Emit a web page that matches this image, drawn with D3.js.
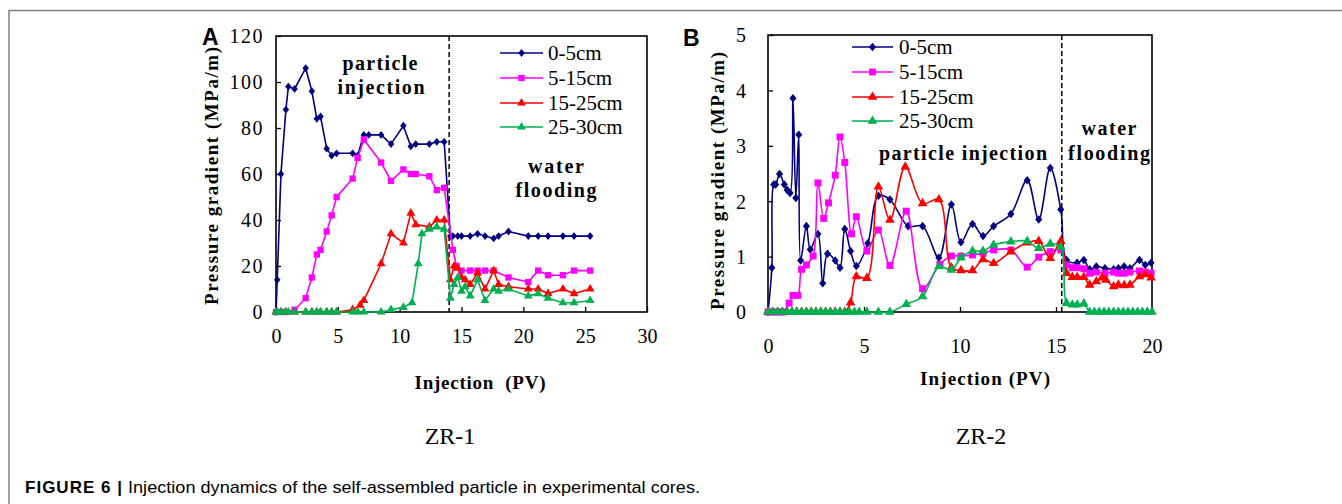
<!DOCTYPE html>
<html>
<head>
<meta charset="utf-8">
<script src="https://cdn.jsdelivr.net/npm/d3@7"></script>
<style>
  body { margin: 0; background: #fff; }
</style>
</head>
<body>
<div id="fig"></div>
<script>
// ---- data ----
const seriesNames = ['0-5cm', '5-15cm', '15-25cm', '25-30cm'];

// ZR-1 (panel A)
const a05x = [0, 0.1, 0.4, 0.8, 1.0, 1.5, 2.4, 2.9, 3.3, 3.6, 4.1, 4.5, 4.9, 6.2, 6.6, 7.1, 7.5, 8.5, 9.3, 10.3, 10.9, 11.3, 12.4, 13.0, 13.6, 14.1, 14.3, 14.7, 15.0, 15.7, 16.3, 16.9, 17.6, 18.0, 18.8, 20.4, 21.2, 22.0, 23.2, 24.1, 25.4];
const a05y = [0, 14, 60, 88, 98, 97, 106, 96, 84, 85, 71, 68, 69, 69, 68, 77, 77, 77, 73, 81, 72, 73, 73, 74, 74, 33, 33, 33, 33, 33, 34, 33, 32, 33, 35, 33, 33, 33, 33, 33, 33];
const a515x = [0, 0.4, 0.8, 1.5, 2.4, 2.9, 3.3, 3.6, 4.1, 4.5, 4.9, 6.2, 6.6, 7.1, 8.5, 9.3, 10.3, 10.9, 11.3, 12.4, 13.0, 13.6, 14.3, 14.6, 15.0, 15.7, 16.3, 16.9, 17.6, 18.8, 20.4, 21.2, 22.0, 23.2, 24.1, 25.4];
const a515y = [0, 0, 0, 1, 6, 15, 25, 27, 35, 42, 50, 58, 67, 75, 65, 57, 62, 60, 60, 59, 53, 54, 27, 20, 18, 18, 18, 18, 18, 15, 13, 18, 16, 16, 18, 18];
const a1525x = [0, 0.4, 0.8, 1.5, 2.4, 2.9, 3.3, 3.6, 4.1, 4.5, 4.9, 6.2, 6.8, 7.1, 8.5, 9.3, 10.3, 10.9, 11.3, 12.4, 13.0, 13.6, 14.1, 14.4, 14.7, 15.0, 15.3, 15.7, 16.3, 16.9, 17.6, 18.0, 18.8, 20.4, 21.2, 22.0, 23.2, 24.1, 25.4];
const a1525y = [0, 0, 0, 0, 0, 0, 0, 0, 0, 0, 0, 1, 3, 5, 21, 34, 30, 43, 38, 37, 40, 40, 14, 20, 19, 15, 14, 12, 17, 10, 18, 12, 11, 10, 10, 8, 10, 8, 10];
const a2530x = [0, 0.1, 0.4, 0.8, 1.0, 1.5, 2.4, 2.9, 3.3, 3.6, 4.1, 4.5, 4.9, 6.2, 6.6, 7.1, 8.5, 9.3, 10.3, 11.0, 11.5, 11.8, 12.4, 13.0, 13.6, 14.1, 14.4, 14.7, 15.0, 15.3, 15.7, 16.3, 16.9, 17.6, 18.0, 18.8, 20.4, 21.2, 22.0, 23.2, 24.1, 25.4];
const a2530y = [0, 0, 0, 0, 0, 0, 0, 0, 0, 0, 0, 0, 0, 0, 0, 0, 0, 1, 2, 4, 21, 34, 36, 37, 36, 6, 12, 15, 9, 11, 7, 14, 5, 10, 9, 10, 7, 8, 6, 4, 4, 5];
const xTicksA = [0, 5, 10, 15, 20, 25, 30];
const yTicksA = [0, 20, 40, 60, 80, 100, 120];
const switchA = 14.0;

// ZR-2 (panel B)
const b05x = [0, 0.2, 0.3, 0.4, 0.6, 0.85, 1.0, 1.15, 1.3, 1.45, 1.6, 1.7, 2.0, 2.2, 2.6, 2.85, 3.1, 3.5, 3.75, 4.0, 4.3, 4.6, 5.2, 5.75, 6.35, 7.3, 8.05, 8.9, 9.55, 10.05, 10.65, 11.2, 11.75, 12.65, 13.5, 14.1, 14.7, 15.25, 15.55, 16.1, 16.45, 16.75, 17.1, 17.55, 18.0, 18.25, 18.55, 18.85, 19.35, 19.65, 19.95];
const b05y = [0, 0.8, 2.3, 2.3, 2.49, 2.3, 2.2, 2.15, 3.86, 2.06, 3.2, 0.93, 1.55, 1.13, 1.41, 0.52, 1.05, 0.93, 0.8, 1.5, 1.1, 0.83, 1.24, 2.1, 2.03, 1.55, 1.55, 0.98, 1.94, 1.26, 1.59, 1.37, 1.55, 1.77, 2.38, 1.67, 2.6, 1.85, 0.94, 0.89, 0.94, 0.77, 0.82, 0.79, 0.77, 0.79, 0.82, 0.79, 0.94, 0.85, 0.89];
const b515x = [0, 0.2, 0.4, 0.6, 0.8, 1.1, 1.3, 1.55, 1.75, 2.0, 2.35, 2.6, 2.9, 3.15, 3.5, 3.75, 4.0, 4.35, 4.6, 5.15, 5.75, 6.35, 7.2, 8.05, 8.95, 9.55, 10.05, 10.65, 11.2, 11.75, 12.65, 13.5, 14.1, 14.7, 15.25, 15.55, 15.85, 16.1, 16.45, 16.75, 17.1, 17.55, 18.0, 18.25, 18.55, 18.85, 19.35, 19.65, 19.95];
const b515y = [0, 0, 0, 0, 0, 0.16, 0.3, 0.3, 0.77, 0.85, 1.01, 2.33, 1.69, 1.97, 2.47, 3.16, 2.7, 1.41, 1.72, 1.1, 1.48, 0.84, 1.82, 0.42, 0.86, 1.01, 1.01, 1.03, 1.06, 1.12, 1.12, 0.81, 0.99, 1.09, 1.12, 0.85, 0.8, 0.8, 0.78, 0.7, 0.72, 0.7, 0.72, 0.7, 0.7, 0.72, 0.74, 0.72, 0.7];
const b1525x = [0, 0.25, 0.5, 0.75, 1.0, 1.25, 1.5, 1.75, 2.0, 2.25, 2.5, 2.75, 3.0, 3.25, 3.5, 3.75, 4.0, 4.3, 4.6, 5.15, 5.75, 6.35, 7.15, 8.05, 8.9, 9.55, 10.05, 10.65, 11.2, 11.75, 12.65, 13.5, 14.1, 14.7, 15.25, 15.55, 15.85, 16.1, 16.45, 16.75, 17.1, 17.4, 17.6, 18.0, 18.25, 18.55, 18.85, 19.35, 19.65, 19.95];
const b1525y = [0, 0, 0, 0, 0, 0, 0, 0, 0, 0, 0, 0, 0, 0, 0, 0, 0, 0.17, 0.64, 0.61, 2.26, 1.66, 2.62, 1.96, 2.03, 0.8, 0.75, 0.75, 0.95, 0.88, 1.09, 1.25, 1.28, 0.97, 1.28, 0.7, 0.63, 0.63, 0.63, 0.49, 0.55, 0.62, 0.58, 0.46, 0.49, 0.48, 0.49, 0.64, 0.68, 0.62];
const b2530x = [0, 0.25, 0.5, 0.75, 1.0, 1.25, 1.5, 1.75, 2.0, 2.25, 2.5, 2.75, 3.0, 3.25, 3.5, 3.75, 4.0, 4.25, 4.5, 4.75, 5.15, 5.75, 6.35, 7.2, 8.05, 8.9, 9.55, 10.05, 10.65, 11.2, 11.75, 12.65, 13.5, 14.1, 14.7, 15.25, 15.55, 15.85, 16.1, 16.45, 16.75, 17.0, 17.25, 17.5, 17.75, 18.0, 18.25, 18.5, 18.75, 19.0, 19.25, 19.5, 19.75, 20.0];
const b2530y = [0, 0, 0, 0, 0, 0, 0, 0, 0, 0, 0, 0, 0, 0, 0, 0, 0, 0, 0, 0, 0, 0, 0, 0.14, 0.28, 0.82, 0.76, 0.98, 1.1, 1.1, 1.21, 1.27, 1.28, 1.15, 1.23, 1.17, 0.16, 0.13, 0.13, 0.15, 0, 0, 0, 0, 0, 0, 0, 0, 0, 0, 0, 0, 0, 0];
const xTicksB = [0, 5, 10, 15, 20];
const yTicksB = [0, 1, 2, 3, 4, 5];
const switchB = 15.3;

// ---- styles ----
const colors = ['#000080', '#FF00FF', '#FF0000', '#00B050'];
const serif = '"Liberation Serif", "Times New Roman", serif';
const sans = '"Liberation Sans", Arial, sans-serif';

// diamond a bit taller than wide, like the Excel marker
const diamond = {
    draw(ctx, size) {
        const r = Math.sqrt(size) / 2;
        ctx.moveTo(0, -r * 1.2);
        ctx.lineTo(r, 0);
        ctx.lineTo(0, r * 1.2);
        ctx.lineTo(-r, 0);
        ctx.closePath();
    }
};
const markers = [
    {type: diamond, size: 42},
    {type: d3.symbolSquare, size: 40},
    {type: d3.symbolTriangle, size: 34},
    {type: d3.symbolTriangle, size: 34}
];

const W = 1342, H = 504;
const svg = d3.select('#fig').append('svg')
    .attr('width', W)
    .attr('height', H)
    .style('display', 'block');

// figure frame (top + left rule)
svg.append('path')
    .attr('d', `M9,${H} V10.5 H${W}`)
    .attr('fill', 'none')
    .attr('stroke', '#808080')
    .attr('stroke-width', 1.5);

const zip = (xs, ys) => xs.map((v, i) => [v, ys[i]]);

const drawPanel = (p) => {
    const x = d3.scaleLinear().domain([p.xTicks[0], p.xTicks[p.xTicks.length - 1]]).range([p.left, p.right]);
    const y = d3.scaleLinear().domain([p.yTicks[0], p.yTicks[p.yTicks.length - 1]]).range([p.bottom, p.top]);
    const g = svg.append('g');

    // axes with inward ticks
    g.append('g')
        .attr('transform', `translate(0,${p.bottom})`)
        .call(d3.axisBottom(x).tickValues(p.xTicks).tickFormat(d3.format('d')).tickSize(-5).tickSizeOuter(0).tickPadding(0))
        .call(a => {
            a.select('.domain').remove();
            a.selectAll('line').attr('stroke', '#000').attr('stroke-width', 1.3);
            a.selectAll('text')
                .attr('dy', null)
                .attr('y', p.xTickY)
                .attr('fill', '#000')
                .style('font-family', serif)
                .style('font-size', '20px');
        });

    g.append('g')
        .attr('transform', `translate(${p.left},0)`)
        .call(d3.axisLeft(y).tickValues(p.yTicks).tickFormat(d3.format('d')).tickSize(-5).tickSizeOuter(0).tickPadding(p.yPad))
        .call(a => {
            a.select('.domain').remove();
            a.selectAll('line').attr('stroke', '#000').attr('stroke-width', 1.3);
            a.selectAll('text')
                .attr('dy', '0.34em')
                .attr('fill', '#000')
                .style('font-family', serif)
                .style('font-size', '20px')
                .style('letter-spacing', p.yTickSpacing);
        });

    // plot box
    g.append('rect')
        .attr('x', p.left).attr('y', p.top)
        .attr('width', p.right - p.left).attr('height', p.bottom - p.top)
        .attr('fill', 'none').attr('stroke', '#000').attr('stroke-width', 1.6);

    // phase separator
    g.append('line')
        .attr('x1', x(p.switchAt)).attr('x2', x(p.switchAt))
        .attr('y1', p.top).attr('y2', p.bottom)
        .attr('stroke', '#000').attr('stroke-width', 1.5)
        .attr('stroke-dasharray', '5,3');

    const line = d3.line().x(d => x(d[0])).y(d => y(d[1])).curve(p.curve);

    p.series.forEach((s, i) => {
        const pts = zip(s[0], s[1]);
        g.append('path')
            .datum(pts)
            .attr('d', line)
            .attr('fill', 'none')
            .attr('stroke', colors[i])
            .attr('stroke-width', 1.6);
        g.append('g').selectAll('path')
            .data(pts)
            .enter()
            .append('path')
            .attr('transform', d => `translate(${x(d[0])},${y(d[1])})`)
            .attr('d', d3.symbol().type(markers[i].type).size(markers[i].size * p.markerScale))
            .attr('fill', colors[i]);
    });

    // legend
    seriesNames.forEach((name, i) => {
        const ly = p.legend.rows[i];
        g.append('line')
            .attr('x1', p.legend.x0).attr('x2', p.legend.x1)
            .attr('y1', ly).attr('y2', ly)
            .attr('stroke', colors[i]).attr('stroke-width', 1.6);
        g.append('path')
            .attr('transform', `translate(${(p.legend.x0 + p.legend.x1) / 2},${ly})`)
            .attr('d', d3.symbol().type(markers[i].type).size(markers[i].size * p.markerScale))
            .attr('fill', colors[i]);
        g.append('text')
            .attr('x', p.legend.tx).attr('y', ly)
            .attr('dy', '0.35em')
            .style('font-family', serif)
            .style('font-size', '21px')
            .text(name);
    });

    // y axis title
    g.append('text')
        .attr('transform', `translate(${p.yTitle[0]},${p.yTitle[1]}) rotate(-90)`)
        .attr('text-anchor', 'middle')
        .attr('textLength', p.yTitle[2])
        .attr('lengthAdjust', 'spacing')
        .style('font-family', serif)
        .style('font-weight', 'bold')
        .style('font-size', '19px')
        .text('Pressure gradient (MPa/m)');

    // x axis title
    g.append('text')
        .attr('x', p.xTitle[0]).attr('y', p.xTitle[1])
        .attr('text-anchor', 'middle')
        .attr('textLength', p.xTitle[2])
        .attr('lengthAdjust', 'spacing')
        .style('font-family', serif)
        .style('font-weight', 'bold')
        .style('font-size', '19px')
        .style('white-space', 'pre')
        .text(p.xTitleText);

    // phase annotations
    p.notes.forEach(n => {
        g.append('text')
            .attr('x', n[1]).attr('y', n[2])
            .attr('text-anchor', 'middle')
            .attr('textLength', n[3])
            .attr('lengthAdjust', 'spacing')
            .style('font-family', serif)
            .style('font-weight', 'bold')
            .style('font-size', '20px')
            .text(n[0]);
    });

    // panel letter
    g.append('text')
        .attr('x', p.letter[1]).attr('y', p.letter[2])
        .style('font-family', sans)
        .style('font-weight', 'bold')
        .style('font-size', '23px')
        .text(p.letter[0]);

    // core name
    g.append('text')
        .attr('x', p.core[1]).attr('y', 444)
        .attr('text-anchor', 'middle')
        .style('font-family', serif)
        .style('font-size', '24px')
        .text(p.core[0]);
};

drawPanel({
    left: 276, right: 647, top: 36, bottom: 312,
    xTicks: xTicksA, yTicks: yTicksA, xTickY: 31, yPad: 12, yTickSpacing: '1.5px',
    switchAt: switchA,
    curve: d3.curveLinear,
    markerScale: 1,
    series: [[a05x, a05y], [a515x, a515y], [a1525x, a1525y], [a2530x, a2530y]],
    legend: {x0: 500, x1: 543, tx: 548, rows: [53, 78, 103, 127]},
    yTitle: [218, 176, 258],
    xTitle: [480, 389, 131],
    xTitleText: 'Injection  (PV)',
    notes: [['particle', 380, 70, 75], ['injection', 381, 94, 87], ['water', 556, 173, 56], ['flooding', 556, 197, 81]],
    letter: ['A', 202, 45],
    core: ['ZR-1', 450]
});

drawPanel({
    left: 768, right: 1152, top: 35, bottom: 312,
    xTicks: xTicksB, yTicks: yTicksB, xTickY: 41, yPad: 22, yTickSpacing: '0px',
    switchAt: switchB,
    curve: d3.curveCatmullRom.alpha(0.5),
    markerScale: 1.2,
    series: [[b05x, b05y], [b515x, b515y], [b1525x, b1525y], [b2530x, b2530y]],
    legend: {x0: 852, x1: 893, tx: 899, rows: [47, 72, 97, 121]},
    yTitle: [724, 181, 258],
    xTitle: [985, 385, 130],
    xTitleText: 'Injection (PV)',
    notes: [['particle injection', 963, 160, 168], ['water', 1109, 135, 55], ['flooding', 1109, 160, 82]],
    letter: ['B', 683, 46],
    core: ['ZR-2', 981]
});

// caption
svg.append('text')
    .attr('x', 25).attr('y', 493)
    .attr('textLength', 97)
    .attr('lengthAdjust', 'spacing')
    .style('font-family', sans)
    .style('font-weight', 'bold')
    .style('font-size', '17px')
    .text('FIGURE 6 |');
svg.append('text')
    .attr('x', 128).attr('y', 493)
    .attr('textLength', 572)
    .attr('lengthAdjust', 'spacingAndGlyphs')
    .style('font-family', '"Liberation Sans Narrow", "Arial Narrow", ' + sans)
    .style('font-size', '17px')
    .text('Injection dynamics of the self-assembled particle in experimental cores.');
</script>
</body>
</html>
